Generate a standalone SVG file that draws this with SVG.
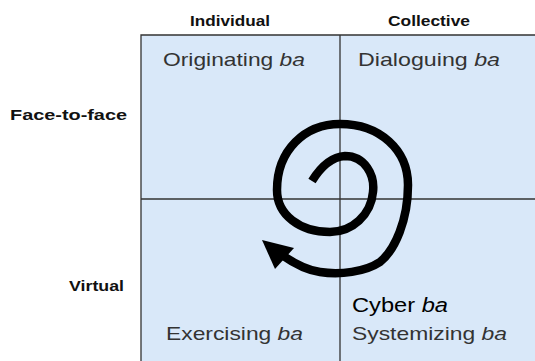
<svg xmlns="http://www.w3.org/2000/svg" width="535" height="361" viewBox="0 0 535 361">
  <style>
    .cell { fill: #d9e8f9; stroke: none; }
    .grid { stroke: #333333; stroke-width: 1.3; fill: none; }
    .head { font-family: "Liberation Sans", Arial, sans-serif; font-weight: bold; font-size: 15.5px; fill: #111111; }
    .lab { font-family: "Liberation Sans", Arial, sans-serif; font-size: 19px; fill: #333333; }
    .cyber { font-family: "Liberation Sans", Arial, sans-serif; font-size: 20px; fill: #000000; }
    .spiral { fill: none; stroke: #000000; stroke-width: 8.5; stroke-linecap: butt; stroke-linejoin: round; }
  </style>
  <rect width="535" height="361" fill="#ffffff"/>
  <text class="head" x="190" y="26" textLength="80" lengthAdjust="spacingAndGlyphs">Individual</text>
  <text class="head" x="388" y="26" textLength="82" lengthAdjust="spacingAndGlyphs">Collective</text>
  <text class="head" x="10" y="120" textLength="117" lengthAdjust="spacingAndGlyphs">Face-to-face</text>
  <text class="head" x="69" y="291" textLength="55" lengthAdjust="spacingAndGlyphs">Virtual</text>
  <g id="originating">
    <rect class="cell" x="141" y="35" width="199" height="164"/>
    <text class="lab" x="163" y="66" textLength="142" lengthAdjust="spacingAndGlyphs">Originating <tspan font-style="italic">ba</tspan></text>
  </g>
  <g id="dialoguing">
    <rect class="cell" x="340" y="35" width="195" height="164"/>
    <text class="lab" x="358" y="66" textLength="142" lengthAdjust="spacingAndGlyphs">Dialoguing <tspan font-style="italic">ba</tspan></text>
  </g>
  <g id="exercising">
    <rect class="cell" x="141" y="199" width="199" height="162"/>
    <text class="lab" x="166" y="340" textLength="137" lengthAdjust="spacingAndGlyphs">Exercising <tspan font-style="italic">ba</tspan></text>
  </g>
  <g id="systemizing">
    <rect class="cell" x="340" y="199" width="195" height="162"/>
    <text class="cyber" x="352" y="312" textLength="96" lengthAdjust="spacingAndGlyphs">Cyber <tspan font-style="italic">ba</tspan></text>
    <text class="lab" x="352" y="340" textLength="155" lengthAdjust="spacingAndGlyphs">Systemizing <tspan font-style="italic">ba</tspan></text>
  </g>
  <g id="grid">
    <path class="grid" d="M141,361 V35 H535 M340,35 V361 M141,199 H535"/>
  </g>
  <g id="connectors">
    <path class="spiral" d="M312,181 C320,168 330,157 345,156 C365,156 375,175 373,192 C371,215 352,232 330,232 C300,232 277,215 277,190 C277,150 305,124 340,124 C380,124 408,150 408,185 C408,220 395,250 380,262 C365,272 340,275 320,272 C305,270 292,262 282,255"/>
    <polygon points="262,240 294,248 275,269" fill="#000000"/>
  </g>
</svg>
